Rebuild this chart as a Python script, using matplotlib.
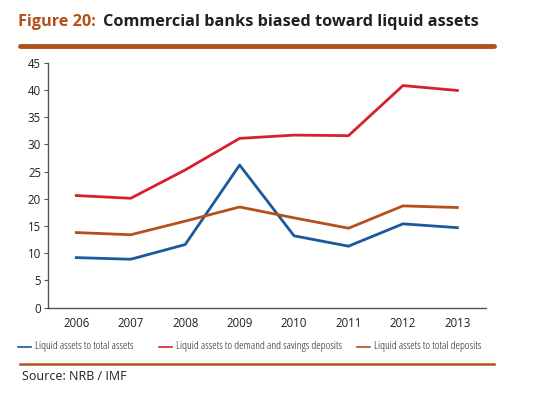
import matplotlib
matplotlib.use("Agg")
import matplotlib.pyplot as plt
from matplotlib.lines import Line2D

years = [2006, 2007, 2008, 2009, 2010, 2011, 2012, 2013]
total_assets = [9.2, 8.9, 11.6, 26.2, 13.2, 11.3, 15.4, 14.7]
demand_savings = [20.6, 20.1, 25.3, 31.1, 31.7, 31.6, 40.8, 39.9]
total_deposits = [13.8, 13.4, 15.9, 18.5, 16.5, 14.6, 18.7, 18.4]
series_names = ["Liquid assets to total assets",
                "Liquid assets to demand and savings deposits",
                "Liquid assets to total deposits"]
yticks = list(range(0, 50, 5))

BLUE = "#1a5a9a"
RED = "#d6202f"
ORANGE = "#b4501c"
TXT = "#231f20"

plt.rcParams['font.family'] = ['Open Sans', 'DejaVu Sans']

fig = plt.figure(figsize=(5.4, 3.94), dpi=100)
ax = fig.add_axes([48/540, 1-307.7/394, (485.7-48)/540, (307.7-62.7)/394])

ax.plot(years, total_assets, color=BLUE, lw=2.0, label=series_names[0])
ax.plot(years, demand_savings, color=RED, lw=2.0, label=series_names[1])
ax.plot(years, total_deposits, color=ORANGE, lw=2.0, label=series_names[2])

ax.set_xlim(2005.48, 2013.52)
ax.set_ylim(0, 45)
ax.set_yticks(yticks)
ax.set_xticks(years)
ax.set_xticklabels([str(y) for y in years])
for s in ["top", "right"]:
    ax.spines[s].set_visible(False)
for s in ["left", "bottom"]:
    ax.spines[s].set_color("#555555")
    ax.spines[s].set_linewidth(1.0)
ax.tick_params(axis="y", direction="out", length=3, color="#555555", labelsize=8.3, labelcolor=TXT, pad=2)
ax.tick_params(axis="x", length=0, labelsize=8.3, labelcolor=TXT, pad=7)

# Title
fig.text(18/540, 1-22/394, "Figure 20:", color=ORANGE, fontsize=11.7, fontweight="bold", va="center", ha="left")
fig.text(103/540, 1-22/394, "Commercial banks biased toward liquid assets", color=TXT, fontsize=11.7,
         fontweight="bold", va="center", ha="left")
fig.add_artist(Line2D([20/540, 494/540], [1-46/394, 1-46/394], color=ORANGE, lw=3.5,
                      solid_capstyle="round", transform=fig.transFigure))

# Legend
leg_x = [18, 159, 357]
for x, name, c in zip(leg_x, series_names, (BLUE, RED, ORANGE)):
    y = 1-346.5/394
    fig.add_artist(Line2D([x/540, (x+13)/540], [y, y], color=c, lw=1.2, transform=fig.transFigure))
    fig.text((x+17)/540, y, name, fontsize=8.2, color=TXT, va="center", ha="left",
             fontstretch="condensed")

fig.add_artist(Line2D([20/540, 494/540], [1-363.5/394, 1-363.5/394], color=ORANGE, lw=1.8,
                      transform=fig.transFigure))
fig.text(22/540, 1-377/394, "Source: NRB / IMF", fontsize=9, color=TXT, va="center", ha="left")

fig.savefig("out.png", dpi=100)
